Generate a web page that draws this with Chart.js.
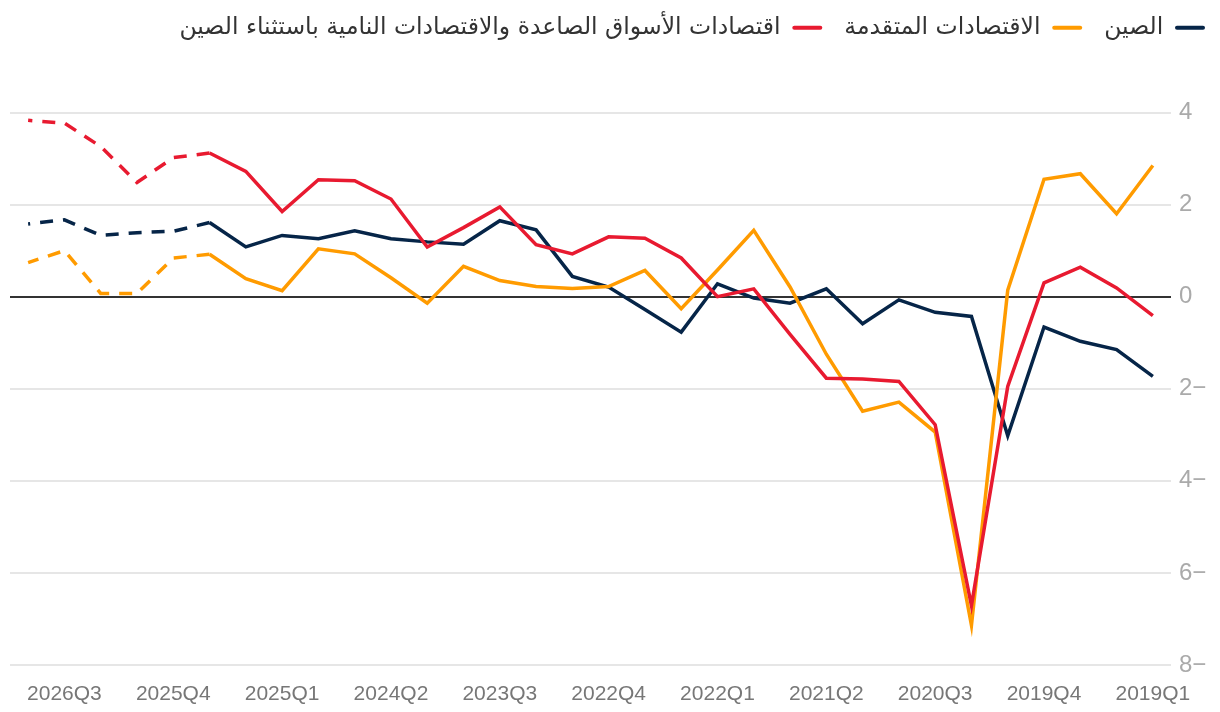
<!DOCTYPE html>
<html lang="ar">
<head>
<meta charset="utf-8">
<script src="https://cdn.jsdelivr.net/npm/chart.js@4.4.0/dist/chart.umd.min.js"></script>
<style>
  html, body { margin: 0; padding: 0; background: #fff; }
  #wrap { width: 1220px; height: 712px; position: relative; }
</style>
</head>
<body>
<div id="wrap"><canvas id="growthChart"></canvas></div>
<script>
const quarters = [
  '2019Q1','2019Q2','2019Q3','2019Q4','2020Q1','2020Q2','2020Q3','2020Q4',
  '2021Q1','2021Q2','2021Q3','2021Q4','2022Q1','2022Q2','2022Q3','2022Q4',
  '2023Q1','2023Q2','2023Q3','2023Q4','2024Q1','2024Q2','2024Q3','2024Q4',
  '2025Q1','2025Q2','2025Q3','2025Q4','2026Q1','2026Q2','2026Q3','2026Q4'
];
// last actual quarter (index into quarters); after it the lines are dashed
const lastActual = 26;

const china = [
  -1.73, -1.15, -0.97, -0.66, -3.02, -0.43, -0.34, -0.07,
  -0.59, 0.17, -0.14, -0.03, 0.28, -0.77, -0.28, 0.21,
  0.44, 1.45, 1.65, 1.14, 1.19, 1.26, 1.43, 1.26,
  1.33, 1.08, 1.61, 1.42, 1.39, 1.33, 1.67, 1.58
];
const advanced = [
  2.85, 1.80, 2.67, 2.55, 0.14, -7.14, -2.94, -2.29,
  -2.49, -1.25, 0.21, 1.44, 0.58, -0.26, 0.57, 0.22,
  0.18, 0.22, 0.35, 0.66, -0.14, 0.41, 0.93, 1.04,
  0.13, 0.39, 0.92, 0.84, 0.07, 0.07, 1.00, 0.74
];
const emde = [
  -0.41, 0.19, 0.64, 0.30, -1.95, -6.71, -2.78, -1.84,
  -1.79, -1.77, -0.82, 0.17, 0.00, 0.84, 1.27, 1.30,
  0.93, 1.13, 1.95, 1.50, 1.08, 2.12, 2.52, 2.54,
  1.85, 2.72, 3.12, 3.02, 2.48, 3.26, 3.77, 3.83
];
const yTicks = [4, 2, 0, -2, -4, -6, -8];

const labelChina = 'الصين';
const labelAdvanced = 'الاقتصادات المتقدمة';
const labelEmde = 'اقتصادات الأسواق الصاعدة والاقتصادات النامية باستثناء الصين';

const dashAfter = ctx => ctx.p0DataIndex >= lastActual ? [13, 10] : undefined;

function lineSet(label, data, color, order) {
  return {
    label, data, order,
    borderColor: color,
    backgroundColor: color,
    borderWidth: 3.5,
    pointRadius: 0,
    pointHoverRadius: 0,
    tension: 0,
    fill: false,
    segment: { borderDash: dashAfter }
  };
}

// legend needs extra room below it, the plot starts well under the keys
const legendSpacer = {
  id: 'legendSpacer',
  beforeLayout(chart) {
    const legend = chart.legend;
    if (!legend || legend._spaced) return;
    const fit = legend.fit;
    legend.fit = function () { fit.call(this); this.height += 63; };
    legend._spaced = true;
  }
};

new Chart(document.getElementById('growthChart'), {
  type: 'line',
  data: {
    labels: quarters,
    datasets: [
      lineSet(labelChina, china, '#062548', 2),
      lineSet(labelAdvanced, advanced, '#ff9b00', 1),
      lineSet(labelEmde, emde, '#e81a30', 0)
    ]
  },
  plugins: [legendSpacer],
  options: {
    responsive: true,
    maintainAspectRatio: false,
    animation: false,
    layout: { padding: { left: 10, right: -7, top: -6, bottom: 0 } },
    plugins: {
      tooltip: { enabled: false },
      legend: {
        position: 'top',
        align: 'start',
        rtl: true,
        textDirection: 'rtl',
        labels: {
          boxWidth: 30,
          boxHeight: 4,
          padding: 22,
          color: '#333',
          font: { family: 'DejaVu Sans', size: 23.5 },
          sort: (a, b) => a.datasetIndex - b.datasetIndex,
          generateLabels: chart => Chart.defaults.plugins.legend.labels.generateLabels(chart)
            .map(item => Object.assign(item, {
              fillStyle: item.strokeStyle, lineWidth: 0, lineDash: [], borderRadius: 2
            }))
        }
      }
    },
    scales: {
      x: {
        reverse: true,
        offset: true,
        afterFit: scale => { scale.height = 47; },
        grid: { display: false },
        border: { display: false },
        ticks: {
          autoSkip: false,
          maxRotation: 0,
          padding: 9,
          color: '#777',
          font: { family: 'Liberation Sans', size: 21 },
          callback: function (value) {
            return value % 3 === 0 ? this.getLabelForValue(value) : '';
          }
        }
      },
      y: {
        position: 'right',
        min: -8,
        max: 4,
        afterBuildTicks: scale => { scale.ticks = yTicks.map(v => ({ value: v })); },
        afterFit: scale => { scale.width = 56; },
        grid: {
          drawTicks: false,
          lineWidth: 2,
          color: ctx => ctx.tick && ctx.tick.value === 0 ? '#333' : '#e6e6e6'
        },
        border: { display: false },
        ticks: {
          padding: 8,
          color: '#aaa',
          font: { family: 'Liberation Sans', size: 24 },
          // minus sign sits after the digit, as in the right-to-left original
          callback: v => v < 0 ? '\u202A' + Math.abs(v) + '\u2212\u202C' : String(v)
        }
      }
    }
  }
});
</script>
</body>
</html>
